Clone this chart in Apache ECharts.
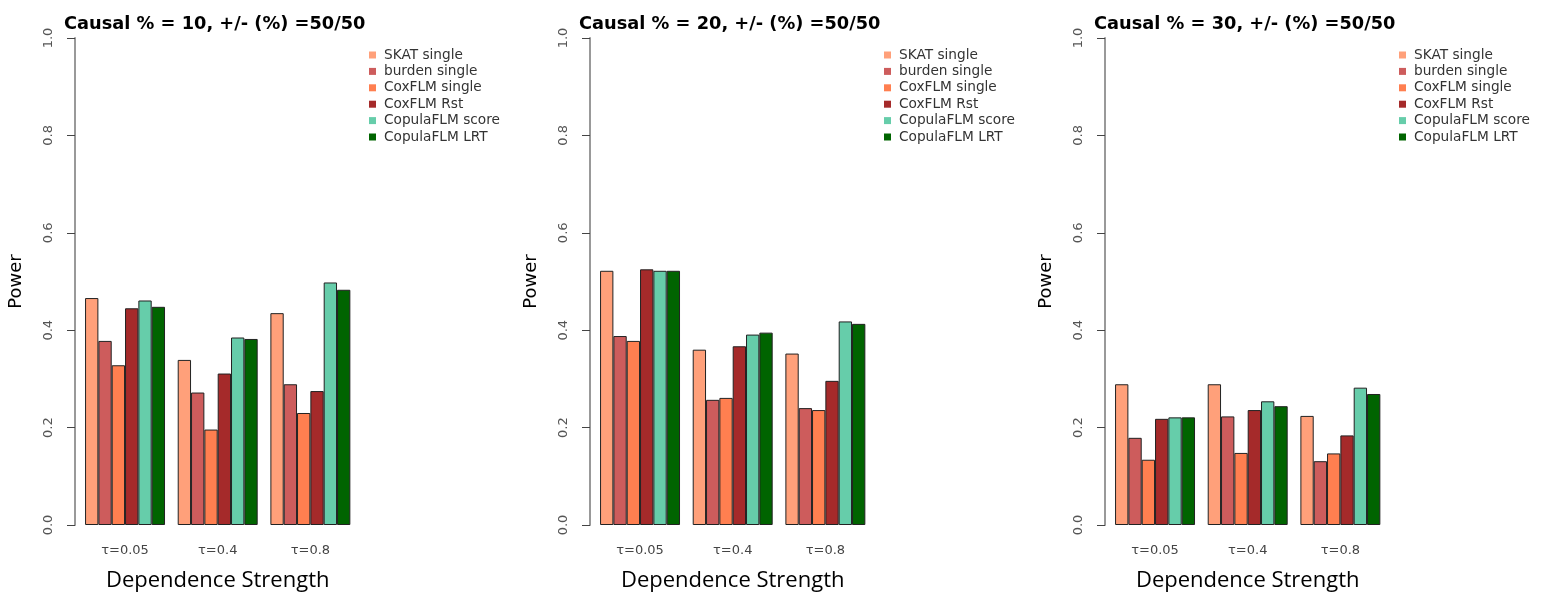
<!DOCTYPE html>
<html>
<head>
<meta charset="utf-8">
<script src="https://cdn.jsdelivr.net/npm/echarts@6/dist/echarts.min.js"></script>
<style>
  html, body { margin: 0; padding: 0; background: #fff; }
  #chart { width: 1545px; height: 604px; }
</style>
</head>
<body>
<div id="chart"></div>
<script>
const categories = ["τ=0.05", "τ=0.4", "τ=0.8"];
const seriesNames = ["SKAT single", "burden single", "CoxFLM single", "CoxFLM Rst", "CopulaFLM score", "CopulaFLM LRT"];
const colors = ["#FFA07A", "#CD5C5C", "#FF7F50", "#A52A2A", "#66CDAA", "#006400"];
const titles = [
  "Causal % = 10, +/- (%) =50/50",
  "Causal % = 20, +/- (%) =50/50",
  "Causal % = 30, +/- (%) =50/50"
];
const yTicks = [0, 0.2, 0.4, 0.6, 0.8, 1.0];

// power by method, one value per tau
const causal10 = [
  [0.466, 0.339, 0.435],
  [0.378, 0.272, 0.289],
  [0.328, 0.196, 0.230],
  [0.445, 0.311, 0.275],
  [0.461, 0.385, 0.498],
  [0.448, 0.382, 0.483]
];
const causal20 = [
  [0.522, 0.360, 0.352],
  [0.388, 0.257, 0.240],
  [0.378, 0.261, 0.236],
  [0.525, 0.367, 0.296],
  [0.522, 0.391, 0.418],
  [0.522, 0.395, 0.413]
];
const causal30 = [
  [0.289, 0.289, 0.224],
  [0.179, 0.223, 0.131],
  [0.134, 0.148, 0.147],
  [0.218, 0.236, 0.184],
  [0.221, 0.254, 0.282],
  [0.221, 0.244, 0.269]
];
const panels = [causal10, causal20, causal30];

const chart = echarts.init(document.getElementById("chart"));
const step = 515;
const font = "DejaVu Sans";

const grids = [], xAxes = [], yAxes = [], titleList = [], legends = [], series = [];
panels.forEach((panel, p) => {
  const off = p * step;
  grids.push({ left: 78.7 + off, width: 278, top: 38, bottom: 79 });
  titleList.push({
    text: titles[p], left: 64 + off, top: 15, padding: 0,
    textStyle: { fontFamily: font, fontWeight: "bold", fontSize: 17.8, color: "#000" }
  });
  legends.push({
    data: seriesNames, orient: "vertical", left: 364 + off, top: 43,
    itemWidth: 7, itemHeight: 7, itemGap: 2.4, icon: "rect",
    itemStyle: { borderWidth: 0 },
    textStyle: { fontFamily: font, fontSize: 13.7, color: "#333", lineHeight: 13.4, padding: [0, 0, 0, 3] }
  });
  xAxes.push({
    type: "category", gridIndex: p, data: categories,
    axisLine: { show: false }, axisTick: { show: false },
    axisLabel: { fontFamily: font, fontSize: 13, color: "#444", margin: 19 },
    name: "Dependence Strength", nameLocation: "middle", nameGap: 45,
    nameTextStyle: { fontFamily: "Open Sans", fontSize: 22, color: "#000" }
  });
  yAxes.push({
    type: "value", gridIndex: p, min: 0, max: 1, interval: 0.2, offset: 3.7,
    splitLine: { show: false },
    axisLine: { show: true, lineStyle: { color: "#999", width: 2 } },
    axisTick: { show: true, length: 8, lineStyle: { color: "#444" } },
    axisLabel: {
      fontFamily: font, fontSize: 13, color: "#555", rotate: 90, margin: 20,
      formatter: (v) => v.toFixed(1)
    },
    name: "Power", nameLocation: "middle", nameGap: 50,
    nameTextStyle: { fontFamily: font, fontSize: 18, color: "#000" }
  });
  panel.forEach((vals, s) => {
    series.push({
      name: seriesNames[s], type: "bar", xAxisIndex: p, yAxisIndex: p,
      data: vals, barGap: "0%", barCategoryGap: "13.7%",
      itemStyle: { color: colors[s], borderColor: "#222", borderWidth: 1 }
    });
  });
});

chart.setOption({
  animation: false,
  backgroundColor: "#fff",
  title: titleList,
  legend: legends,
  grid: grids,
  xAxis: xAxes,
  yAxis: yAxes,
  series: series
});
</script>
</body>
</html>
